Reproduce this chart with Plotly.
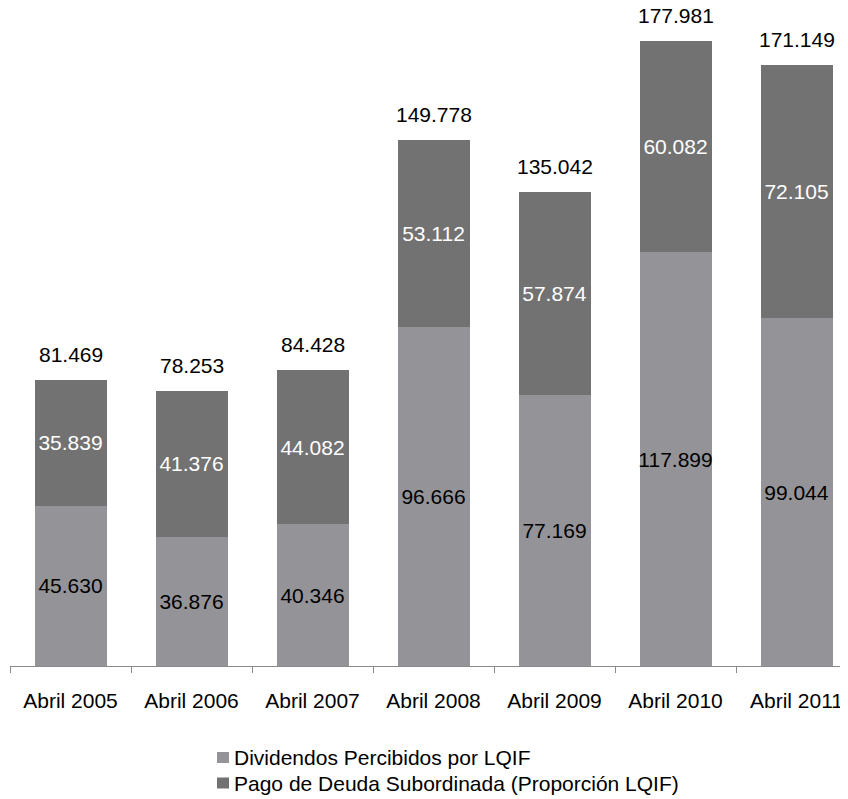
import plotly.graph_objects as go

categories = ["Abril 2005", "Abril 2006", "Abril 2007", "Abril 2008", "Abril 2009", "Abril 2010", "Abril 2011"]
dividendos = [45.630, 36.876, 40.346, 96.666, 77.169, 117.899, 99.044]
deuda = [35.839, 41.376, 44.082, 53.112, 57.874, 60.082, 72.105]
totales = [81.469, 78.253, 84.428, 149.778, 135.042, 177.981, 171.149]
series_names = ["Dividendos Percibidos por LQIF", "Pago de Deuda Subordinada (Proporción LQIF)"]

def fmt(v):
    return f"{v:.3f}"

LIGHT = "#949498"
DARK = "#727272"
FONT = "Liberation Sans, Arial, sans-serif"
FS = 21

W, H = 848, 799
ML, MR, MT, MB = 2, 8, 12, 141
PW = W - ML - MR
PH = H - MT - MB

fig = go.Figure()
fig.add_trace(go.Bar(
    x=categories, y=dividendos, name=series_names[0],
    marker=dict(color=LIGHT, line=dict(width=0)),
    text=[fmt(v) for v in dividendos], textposition="inside",
    insidetextanchor="middle", textangle=0, constraintext="none",
    textfont=dict(color="#000000", size=FS, family=FONT),
))
fig.add_trace(go.Bar(
    x=categories, y=deuda, name=series_names[1],
    marker=dict(color=DARK, line=dict(width=0)),
    text=[fmt(v) for v in deuda], textposition="inside",
    insidetextanchor="middle", textangle=0, constraintext="none",
    textfont=dict(color="#ffffff", size=FS, family=FONT),
))

for c, t in zip(categories, totales):
    fig.add_annotation(x=c, y=t, text=fmt(t), showarrow=False,
                       yanchor="bottom", yshift=12,
                       font=dict(color="#000000", size=FS, family=FONT))

# manual legend (pixel positions converted to paper coordinates)
def px(fx):
    return (fx - ML) / PW

def py(fy):
    return (MT + PH - fy) / PH

legend_rows = [(749.5, LIGHT), (775.0, DARK)]
for (cy, col), name in zip(legend_rows, series_names):
    fig.add_shape(type="rect", xref="paper", yref="paper",
                  x0=px(209), x1=px(221), y0=py(cy - 5.5), y1=py(cy + 5.5),
                  fillcolor=col, line=dict(width=0))
    fig.add_annotation(xref="paper", yref="paper", x=px(224), y=py(cy),
                       xanchor="left", yanchor="middle", text=name,
                       showarrow=False,
                       font=dict(color="#000000", size=FS, family=FONT))

fig.update_layout(
    barmode="stack", bargap=0.405,
    width=W, height=H,
    margin=dict(l=ML, r=MR, t=MT, b=MB, autoexpand=False),
    paper_bgcolor="white", plot_bgcolor="white",
    font=dict(family=FONT, size=FS, color="#000000"),
    showlegend=False,
)
fig.update_xaxes(type="category", range=[-0.5, -0.5 + PW / 121.0], showline=True,
                 linecolor="#898989", linewidth=1, ticks="outside",
                 tickson="boundaries", ticklen=6, tickcolor="#898989",
                 showgrid=False, zeroline=False, automargin=False,
                 ticklabelstandoff=16,
                 tickfont=dict(size=FS, family=FONT, color="#000000"))
fig.update_yaxes(range=[0, PH / 3.51], visible=False, showgrid=False, zeroline=False)

fig.write_html("out.html")
